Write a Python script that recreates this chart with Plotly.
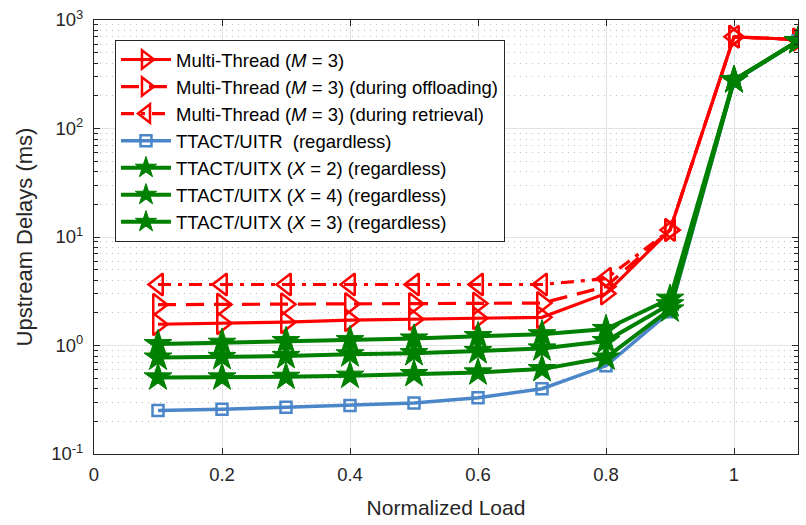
import plotly.graph_objects as go

load = [0.1, 0.2, 0.3, 0.4, 0.5, 0.6, 0.7, 0.8, 0.9, 1.0, 1.1]

mt_total = [1.57, 1.60, 1.64, 1.71, 1.75, 1.78, 1.82, 3.02, 11.6, 700, 660]
mt_offload = [2.38, 2.39, 2.40, 2.41, 2.42, 2.44, 2.46, 3.49, 11.6, 700, 660]
mt_retrieve = [3.65, 3.65, 3.65, 3.65, 3.65, 3.65, 3.65, 4.13, 11.6, 700, 660]
uitr = [0.252, 0.258, 0.27, 0.28, 0.295, 0.33, 0.40, 0.65, 2.05, 272, 640]
uitx2 = [1.03, 1.06, 1.10, 1.12, 1.16, 1.22, 1.27, 1.42, 2.7, 279, 640]
uitx4 = [0.774, 0.785, 0.80, 0.83, 0.85, 0.89, 0.94, 1.10, 2.4, 279, 640]
uitx3 = [0.508, 0.508, 0.515, 0.527, 0.546, 0.565, 0.606, 0.774, 2.15, 279, 640]

names = [
    "Multi-Thread (<i>M</i> = 3)",
    "Multi-Thread (<i>M</i> = 3) (during offloading)",
    "Multi-Thread (<i>M</i> = 3) (during retrieval)",
    "TTACT/UITR  (regardless)",
    "TTACT/UITX (<i>X</i> = 2) (regardless)",
    "TTACT/UITX (<i>X</i> = 4) (regardless)",
    "TTACT/UITX (<i>X</i> = 3) (regardless)",
]

y_ticks = [0.1, 1, 10, 100, 1000]
y_tick_text = ["10<sup>-1</sup>", "10<sup>0</sup>", "10<sup>1</sup>", "10<sup>2</sup>", "10<sup>3</sup>"]
x_ticks = [0, 0.2, 0.4, 0.6, 0.8, 1]
x_tick_text = ["0", "0.2", "0.4", "0.6", "0.8", "1"]

RED = "#FF0000"
GREEN = "#008000"
BLUE = "#4A86C8"
FONT = "Liberation Sans, Arial, sans-serif"
AX = "#262626"

series = [
    (mt_total, RED, "solid", "triangle-right-open", 19, 3.2),
    (mt_offload, RED, "18px,10px", "triangle-right-open", 19, 3.2),
    (mt_retrieve, RED, "13px,7px,4px,7px", "triangle-left-open", 19, 3.2),
    (uitr, BLUE, "solid", "square-open", 11, 3.5),
    (uitx2, GREEN, "solid", "star", 21, 4),
    (uitx4, GREEN, "solid", "star", 21, 4),
    (uitx3, GREEN, "solid", "star", 21, 4),
]

fig = go.Figure()
for i, (vals, col, dash, sym, ms, lw) in enumerate(series):
    fig.add_trace(go.Scatter(
        x=load, y=vals, name=names[i], mode="lines+markers",
        line=dict(color=col, width=lw, dash=dash),
        marker=dict(symbol=sym, size=ms, color=col,
                    line=dict(color=col, width=2.5 if "open" in sym else 1)),
    ))

minor_vals = [m * 10 ** e for e in range(-1, 3) for m in range(2, 10)]

fig.update_layout(
    width=806, height=525,
    margin=dict(l=94, r=7, t=16, b=71),
    paper_bgcolor="white", plot_bgcolor="white",
    font=dict(family=FONT, size=18, color=AX),
    showlegend=True,
    legend=dict(
        x=0.0298, y=0.954, xanchor="left", yanchor="top",
        bgcolor="white", bordercolor=AX, borderwidth=1,
        font=dict(family=FONT, size=18.5, color="black"),
        itemwidth=50, tracegroupgap=0,
        itemclick=False,
    ),
    xaxis=dict(
        range=[0, 1.1], tickmode="array", tickvals=x_ticks, ticktext=x_tick_text,
        ticks="inside", ticklen=6, tickcolor=AX, showline=True, linecolor=AX,
        linewidth=1, mirror="ticks", showgrid=True, gridcolor="#E3E3E3",
        gridwidth=1, zeroline=False, ticklabelstandoff=4,
        title=dict(text="Normalized Load", font=dict(size=21, color=AX), standoff=16),
        tickfont=dict(size=18.5, color=AX),
    ),
    yaxis=dict(
        type="log", range=[-1, 3], tickmode="array", tickvals=y_ticks,
        ticktext=y_tick_text, ticks="inside", ticklen=6, tickcolor=AX,
        showline=True, linecolor=AX, linewidth=1, mirror="ticks",
        showgrid=True, gridcolor="#E3E3E3", gridwidth=1, zeroline=False,
        ticklabelstandoff=6,
        minor=dict(tickmode="array", tickvals=minor_vals, ticks="inside",
                   ticklen=4, tickcolor=AX, showgrid=True,
                   gridcolor="#C0C0C0", griddash="1px,5px", gridwidth=1),
        title=dict(text="Upstream Delays (ms)", font=dict(size=22, color=AX), standoff=12),
        tickfont=dict(size=18.5, color=AX),
    ),
)

fig.write_html("out.html")
